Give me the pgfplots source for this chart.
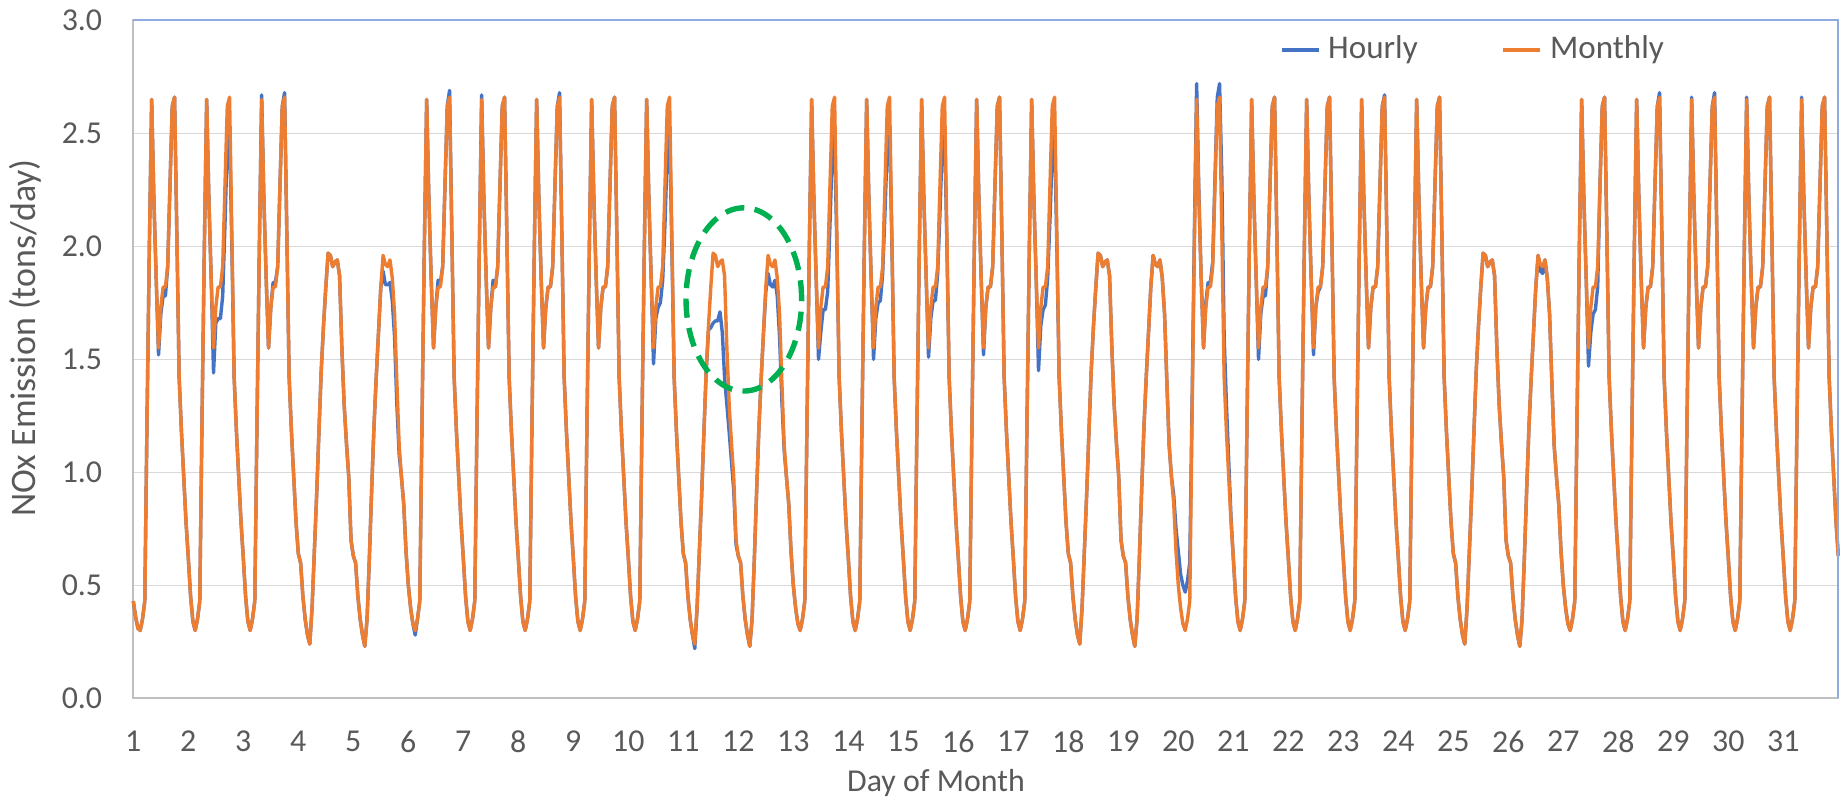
\documentclass[border=0pt]{standalone}
\usepackage{fontspec}
\setmainfont{Carlito}
\usepackage{pgfplots}
\usepackage{pgfplotstable}
\pgfplotsset{compat=1.18}

\definecolor{hourly}{HTML}{4472C4}
\definecolor{monthly}{HTML}{ED7D31}
\definecolor{ovalgreen}{HTML}{00B050}
\definecolor{gridgray}{HTML}{D9D9D9}
\definecolor{axisgray}{HTML}{BFBFBF}
\definecolor{frameblue}{HTML}{8FAADC}
\definecolor{txtgray}{HTML}{595959}

% hourly NOx, one row per hour from day 1 00:00; columns: h = Hourly, m = Monthly
\pgfplotstableread[row sep=\\]{
h m\\
0.43 0.43\\ 0.36 0.36\\ 0.31 0.31\\ 0.30 0.30\\ 0.35 0.35\\ 0.43 0.43\\ 1.25 1.25\\ 2.00 2.00\\ 2.65 2.65\\ 2.20 2.20\\ 1.85 1.85\\ 1.52 1.55\\
1.70 1.73\\ 1.78 1.82\\ 1.78 1.82\\ 1.91 1.91\\ 2.27 2.27\\ 2.62 2.62\\ 2.66 2.66\\ 2.05 2.05\\ 1.42 1.42\\ 1.18 1.18\\ 0.98 0.98\\ 0.78 0.78\\
0.62 0.62\\ 0.45 0.45\\ 0.34 0.34\\ 0.30 0.30\\ 0.35 0.35\\ 0.43 0.43\\ 1.25 1.25\\ 2.00 2.00\\ 2.65 2.65\\ 2.20 2.20\\ 1.85 1.85\\ 1.44 1.55\\
1.66 1.73\\ 1.68 1.82\\ 1.68 1.82\\ 1.78 1.91\\ 2.10 2.27\\ 2.45 2.62\\ 2.52 2.66\\ 2.00 2.05\\ 1.42 1.42\\ 1.18 1.18\\ 0.98 0.98\\ 0.78 0.78\\
0.62 0.62\\ 0.45 0.45\\ 0.34 0.34\\ 0.30 0.30\\ 0.35 0.35\\ 0.43 0.43\\ 1.25 1.25\\ 2.00 2.00\\ 2.67 2.65\\ 2.20 2.20\\ 1.85 1.85\\ 1.55 1.55\\
1.73 1.73\\ 1.84 1.82\\ 1.84 1.82\\ 1.91 1.91\\ 2.27 2.27\\ 2.62 2.62\\ 2.68 2.66\\ 2.05 2.05\\ 1.42 1.42\\ 1.18 1.18\\ 0.98 0.98\\ 0.78 0.78\\
0.64 0.64\\ 0.60 0.60\\ 0.45 0.45\\ 0.35 0.35\\ 0.28 0.28\\ 0.24 0.24\\ 0.40 0.40\\ 0.65 0.65\\ 0.90 0.90\\ 1.18 1.18\\ 1.45 1.45\\ 1.65 1.65\\
1.82 1.82\\ 1.97 1.97\\ 1.96 1.96\\ 1.91 1.91\\ 1.93 1.93\\ 1.94 1.94\\ 1.87 1.87\\ 1.55 1.55\\ 1.30 1.30\\ 1.13 1.13\\ 0.98 0.98\\ 0.70 0.70\\
0.63 0.63\\ 0.60 0.60\\ 0.45 0.45\\ 0.35 0.35\\ 0.28 0.28\\ 0.23 0.23\\ 0.35 0.35\\ 0.62 0.62\\ 0.92 0.92\\ 1.20 1.20\\ 1.42 1.42\\ 1.62 1.62\\
1.82 1.82\\ 1.89 1.96\\ 1.83 1.92\\ 1.83 1.91\\ 1.84 1.94\\ 1.76 1.86\\ 1.60 1.70\\ 1.30 1.40\\ 1.08 1.12\\ 0.98 0.98\\ 0.86 0.86\\ 0.65 0.65\\
0.50 0.50\\ 0.40 0.40\\ 0.33 0.33\\ 0.28 0.30\\ 0.35 0.35\\ 0.43 0.43\\ 1.25 1.25\\ 2.00 2.00\\ 2.65 2.65\\ 2.20 2.20\\ 1.85 1.85\\ 1.55 1.55\\
1.73 1.73\\ 1.85 1.82\\ 1.84 1.82\\ 1.91 1.91\\ 2.27 2.27\\ 2.62 2.62\\ 2.69 2.66\\ 2.05 2.05\\ 1.42 1.42\\ 1.18 1.18\\ 0.98 0.98\\ 0.78 0.78\\
0.62 0.62\\ 0.45 0.45\\ 0.34 0.34\\ 0.30 0.30\\ 0.35 0.35\\ 0.43 0.43\\ 1.25 1.25\\ 2.00 2.00\\ 2.67 2.65\\ 2.20 2.20\\ 1.85 1.85\\ 1.55 1.55\\
1.73 1.73\\ 1.85 1.82\\ 1.82 1.82\\ 1.91 1.91\\ 2.27 2.27\\ 2.62 2.62\\ 2.66 2.66\\ 2.05 2.05\\ 1.42 1.42\\ 1.18 1.18\\ 0.98 0.98\\ 0.78 0.78\\
0.62 0.62\\ 0.45 0.45\\ 0.34 0.34\\ 0.30 0.30\\ 0.35 0.35\\ 0.43 0.43\\ 1.25 1.25\\ 2.00 2.00\\ 2.65 2.65\\ 2.20 2.20\\ 1.85 1.85\\ 1.55 1.55\\
1.73 1.73\\ 1.82 1.82\\ 1.82 1.82\\ 1.91 1.91\\ 2.27 2.27\\ 2.62 2.62\\ 2.68 2.66\\ 2.05 2.05\\ 1.42 1.42\\ 1.18 1.18\\ 0.98 0.98\\ 0.78 0.78\\
0.62 0.62\\ 0.45 0.45\\ 0.34 0.34\\ 0.30 0.30\\ 0.35 0.35\\ 0.43 0.43\\ 1.25 1.25\\ 2.00 2.00\\ 2.65 2.65\\ 2.20 2.20\\ 1.85 1.85\\ 1.55 1.55\\
1.73 1.73\\ 1.82 1.82\\ 1.82 1.82\\ 1.91 1.91\\ 2.27 2.27\\ 2.62 2.62\\ 2.66 2.66\\ 2.05 2.05\\ 1.42 1.42\\ 1.18 1.18\\ 0.98 0.98\\ 0.78 0.78\\
0.62 0.62\\ 0.45 0.45\\ 0.34 0.34\\ 0.30 0.30\\ 0.35 0.35\\ 0.43 0.43\\ 1.25 1.25\\ 2.00 2.00\\ 2.65 2.65\\ 2.20 2.20\\ 1.85 1.85\\ 1.48 1.55\\
1.68 1.73\\ 1.73 1.82\\ 1.75 1.82\\ 1.85 1.91\\ 2.10 2.27\\ 2.42 2.62\\ 2.52 2.66\\ 2.00 2.05\\ 1.42 1.42\\ 1.18 1.18\\ 0.98 0.98\\ 0.78 0.78\\
0.64 0.64\\ 0.60 0.60\\ 0.45 0.45\\ 0.35 0.35\\ 0.28 0.28\\ 0.22 0.24\\ 0.40 0.40\\ 0.65 0.65\\ 0.90 0.90\\ 1.18 1.18\\ 1.45 1.45\\ 1.63 1.65\\
1.64 1.82\\ 1.66 1.97\\ 1.67 1.96\\ 1.67 1.91\\ 1.71 1.93\\ 1.62 1.94\\ 1.42 1.87\\ 1.30 1.55\\ 1.18 1.30\\ 1.05 1.13\\ 0.92 0.98\\ 0.68 0.70\\
0.63 0.63\\ 0.60 0.60\\ 0.45 0.45\\ 0.35 0.35\\ 0.28 0.28\\ 0.23 0.23\\ 0.35 0.35\\ 0.62 0.62\\ 0.92 0.92\\ 1.20 1.20\\ 1.42 1.42\\ 1.62 1.62\\
1.80 1.82\\ 1.88 1.96\\ 1.83 1.92\\ 1.82 1.91\\ 1.85 1.94\\ 1.78 1.86\\ 1.60 1.70\\ 1.32 1.40\\ 1.10 1.12\\ 0.98 0.98\\ 0.86 0.86\\ 0.65 0.65\\
0.50 0.50\\ 0.40 0.40\\ 0.33 0.33\\ 0.30 0.30\\ 0.35 0.35\\ 0.43 0.43\\ 1.25 1.25\\ 2.00 2.00\\ 2.65 2.65\\ 2.20 2.20\\ 1.85 1.85\\ 1.50 1.55\\
1.62 1.73\\ 1.72 1.82\\ 1.72 1.82\\ 1.80 1.91\\ 2.10 2.27\\ 2.42 2.62\\ 2.50 2.66\\ 2.00 2.05\\ 1.42 1.42\\ 1.18 1.18\\ 0.98 0.98\\ 0.78 0.78\\
0.62 0.62\\ 0.45 0.45\\ 0.34 0.34\\ 0.30 0.30\\ 0.35 0.35\\ 0.43 0.43\\ 1.25 1.25\\ 2.00 2.00\\ 2.65 2.65\\ 2.20 2.20\\ 1.85 1.85\\ 1.50 1.55\\
1.68 1.73\\ 1.75 1.82\\ 1.76 1.82\\ 1.88 1.91\\ 2.15 2.27\\ 2.45 2.62\\ 2.52 2.66\\ 2.02 2.05\\ 1.42 1.42\\ 1.18 1.18\\ 0.98 0.98\\ 0.78 0.78\\
0.62 0.62\\ 0.45 0.45\\ 0.34 0.34\\ 0.30 0.30\\ 0.35 0.35\\ 0.43 0.43\\ 1.25 1.25\\ 2.00 2.00\\ 2.65 2.65\\ 2.20 2.20\\ 1.85 1.85\\ 1.51 1.55\\
1.68 1.73\\ 1.76 1.82\\ 1.76 1.82\\ 1.88 1.91\\ 2.15 2.27\\ 2.45 2.62\\ 2.52 2.66\\ 2.02 2.05\\ 1.42 1.42\\ 1.18 1.18\\ 0.98 0.98\\ 0.78 0.78\\
0.62 0.62\\ 0.45 0.45\\ 0.34 0.34\\ 0.30 0.30\\ 0.35 0.35\\ 0.43 0.43\\ 1.25 1.25\\ 2.00 2.00\\ 2.65 2.65\\ 2.20 2.20\\ 1.85 1.85\\ 1.52 1.55\\
1.73 1.73\\ 1.82 1.82\\ 1.82 1.82\\ 1.91 1.91\\ 2.27 2.27\\ 2.62 2.62\\ 2.66 2.66\\ 2.05 2.05\\ 1.42 1.42\\ 1.18 1.18\\ 0.98 0.98\\ 0.78 0.78\\
0.62 0.62\\ 0.45 0.45\\ 0.34 0.34\\ 0.30 0.30\\ 0.35 0.35\\ 0.43 0.43\\ 1.25 1.25\\ 2.00 2.00\\ 2.65 2.65\\ 2.20 2.20\\ 1.85 1.85\\ 1.45 1.55\\
1.65 1.73\\ 1.72 1.82\\ 1.74 1.82\\ 1.86 1.91\\ 2.12 2.27\\ 2.42 2.62\\ 2.50 2.66\\ 2.00 2.05\\ 1.42 1.42\\ 1.18 1.18\\ 0.98 0.98\\ 0.78 0.78\\
0.64 0.64\\ 0.60 0.60\\ 0.45 0.45\\ 0.35 0.35\\ 0.28 0.28\\ 0.24 0.24\\ 0.40 0.40\\ 0.65 0.65\\ 0.90 0.90\\ 1.18 1.18\\ 1.45 1.45\\ 1.65 1.65\\
1.82 1.82\\ 1.97 1.97\\ 1.96 1.96\\ 1.91 1.91\\ 1.93 1.93\\ 1.94 1.94\\ 1.87 1.87\\ 1.55 1.55\\ 1.30 1.30\\ 1.13 1.13\\ 0.98 0.98\\ 0.70 0.70\\
0.63 0.63\\ 0.60 0.60\\ 0.45 0.45\\ 0.35 0.35\\ 0.28 0.28\\ 0.23 0.23\\ 0.35 0.35\\ 0.62 0.62\\ 0.92 0.92\\ 1.20 1.20\\ 1.42 1.42\\ 1.62 1.62\\
1.82 1.82\\ 1.96 1.96\\ 1.92 1.92\\ 1.91 1.91\\ 1.94 1.94\\ 1.86 1.86\\ 1.70 1.70\\ 1.40 1.40\\ 1.12 1.12\\ 0.98 0.98\\ 0.90 0.86\\ 0.75 0.65\\
0.65 0.50\\ 0.55 0.40\\ 0.50 0.33\\ 0.47 0.30\\ 0.52 0.35\\ 0.60 0.43\\ 1.30 1.25\\ 2.05 2.00\\ 2.72 2.65\\ 2.22 2.20\\ 1.85 1.85\\ 1.55 1.55\\
1.75 1.73\\ 1.84 1.82\\ 1.84 1.82\\ 1.93 1.91\\ 2.30 2.27\\ 2.66 2.62\\ 2.72 2.66\\ 2.30 2.05\\ 1.60 1.42\\ 1.30 1.18\\ 1.05 0.98\\ 0.80 0.78\\
0.62 0.62\\ 0.45 0.45\\ 0.34 0.34\\ 0.30 0.30\\ 0.35 0.35\\ 0.43 0.43\\ 1.25 1.25\\ 2.00 2.00\\ 2.65 2.65\\ 2.20 2.20\\ 1.85 1.85\\ 1.50 1.55\\
1.70 1.73\\ 1.78 1.82\\ 1.78 1.82\\ 1.91 1.91\\ 2.27 2.27\\ 2.62 2.62\\ 2.66 2.66\\ 2.05 2.05\\ 1.42 1.42\\ 1.18 1.18\\ 0.98 0.98\\ 0.78 0.78\\
0.62 0.62\\ 0.45 0.45\\ 0.34 0.34\\ 0.30 0.30\\ 0.35 0.35\\ 0.43 0.43\\ 1.25 1.25\\ 2.00 2.00\\ 2.65 2.65\\ 2.20 2.20\\ 1.85 1.85\\ 1.52 1.55\\
1.73 1.73\\ 1.80 1.82\\ 1.82 1.82\\ 1.91 1.91\\ 2.27 2.27\\ 2.62 2.62\\ 2.66 2.66\\ 2.05 2.05\\ 1.42 1.42\\ 1.18 1.18\\ 0.98 0.98\\ 0.78 0.78\\
0.62 0.62\\ 0.45 0.45\\ 0.34 0.34\\ 0.30 0.30\\ 0.35 0.35\\ 0.43 0.43\\ 1.25 1.25\\ 2.00 2.00\\ 2.65 2.65\\ 2.20 2.20\\ 1.85 1.85\\ 1.55 1.55\\
1.73 1.73\\ 1.82 1.82\\ 1.82 1.82\\ 1.91 1.91\\ 2.27 2.27\\ 2.62 2.62\\ 2.67 2.66\\ 2.05 2.05\\ 1.42 1.42\\ 1.18 1.18\\ 0.98 0.98\\ 0.78 0.78\\
0.62 0.62\\ 0.45 0.45\\ 0.34 0.34\\ 0.30 0.30\\ 0.35 0.35\\ 0.43 0.43\\ 1.25 1.25\\ 2.00 2.00\\ 2.65 2.65\\ 2.20 2.20\\ 1.85 1.85\\ 1.55 1.55\\
1.73 1.73\\ 1.82 1.82\\ 1.82 1.82\\ 1.91 1.91\\ 2.27 2.27\\ 2.62 2.62\\ 2.66 2.66\\ 2.05 2.05\\ 1.42 1.42\\ 1.18 1.18\\ 0.98 0.98\\ 0.78 0.78\\
0.64 0.64\\ 0.60 0.60\\ 0.45 0.45\\ 0.35 0.35\\ 0.28 0.28\\ 0.24 0.24\\ 0.40 0.40\\ 0.65 0.65\\ 0.90 0.90\\ 1.18 1.18\\ 1.45 1.45\\ 1.65 1.65\\
1.82 1.82\\ 1.97 1.97\\ 1.96 1.96\\ 1.91 1.91\\ 1.93 1.93\\ 1.94 1.94\\ 1.87 1.87\\ 1.55 1.55\\ 1.30 1.30\\ 1.13 1.13\\ 0.98 0.98\\ 0.70 0.70\\
0.63 0.63\\ 0.60 0.60\\ 0.45 0.45\\ 0.35 0.35\\ 0.28 0.28\\ 0.23 0.23\\ 0.35 0.35\\ 0.62 0.62\\ 0.92 0.92\\ 1.20 1.20\\ 1.42 1.42\\ 1.62 1.62\\
1.82 1.82\\ 1.96 1.96\\ 1.89 1.92\\ 1.88 1.91\\ 1.94 1.94\\ 1.86 1.86\\ 1.70 1.70\\ 1.40 1.40\\ 1.12 1.12\\ 0.98 0.98\\ 0.86 0.86\\ 0.65 0.65\\
0.50 0.50\\ 0.40 0.40\\ 0.33 0.33\\ 0.30 0.30\\ 0.35 0.35\\ 0.43 0.43\\ 1.25 1.25\\ 2.00 2.00\\ 2.65 2.65\\ 2.20 2.20\\ 1.85 1.85\\ 1.47 1.55\\
1.62 1.73\\ 1.70 1.82\\ 1.72 1.82\\ 1.82 1.91\\ 2.27 2.27\\ 2.62 2.62\\ 2.66 2.66\\ 2.05 2.05\\ 1.42 1.42\\ 1.18 1.18\\ 0.98 0.98\\ 0.78 0.78\\
0.62 0.62\\ 0.45 0.45\\ 0.34 0.34\\ 0.30 0.30\\ 0.35 0.35\\ 0.43 0.43\\ 1.25 1.25\\ 2.00 2.00\\ 2.65 2.65\\ 2.20 2.20\\ 1.85 1.85\\ 1.55 1.55\\
1.73 1.73\\ 1.82 1.82\\ 1.82 1.82\\ 1.91 1.91\\ 2.27 2.27\\ 2.62 2.62\\ 2.68 2.66\\ 2.05 2.05\\ 1.42 1.42\\ 1.18 1.18\\ 0.98 0.98\\ 0.78 0.78\\
0.62 0.62\\ 0.45 0.45\\ 0.34 0.34\\ 0.30 0.30\\ 0.35 0.35\\ 0.43 0.43\\ 1.25 1.25\\ 2.00 2.00\\ 2.66 2.65\\ 2.20 2.20\\ 1.85 1.85\\ 1.55 1.55\\
1.73 1.73\\ 1.82 1.82\\ 1.82 1.82\\ 1.91 1.91\\ 2.27 2.27\\ 2.62 2.62\\ 2.68 2.66\\ 2.05 2.05\\ 1.42 1.42\\ 1.18 1.18\\ 0.98 0.98\\ 0.78 0.78\\
0.62 0.62\\ 0.45 0.45\\ 0.34 0.34\\ 0.30 0.30\\ 0.35 0.35\\ 0.43 0.43\\ 1.25 1.25\\ 2.00 2.00\\ 2.66 2.65\\ 2.20 2.20\\ 1.85 1.85\\ 1.55 1.55\\
1.73 1.73\\ 1.82 1.82\\ 1.82 1.82\\ 1.91 1.91\\ 2.27 2.27\\ 2.62 2.62\\ 2.66 2.66\\ 2.05 2.05\\ 1.42 1.42\\ 1.18 1.18\\ 0.98 0.98\\ 0.78 0.78\\
0.62 0.62\\ 0.45 0.45\\ 0.34 0.34\\ 0.30 0.30\\ 0.35 0.35\\ 0.43 0.43\\ 1.25 1.25\\ 2.00 2.00\\ 2.66 2.65\\ 2.20 2.20\\ 1.85 1.85\\ 1.55 1.55\\
1.73 1.73\\ 1.82 1.82\\ 1.82 1.82\\ 1.91 1.91\\ 2.27 2.27\\ 2.62 2.62\\ 2.66 2.66\\ 2.05 2.05\\ 1.42 1.42\\ 1.18 1.18\\ 0.98 0.98\\ 0.78 0.78\\
0.63 0.63\\
}\nox

\begin{document}
\begin{tikzpicture}
\useasboundingbox (0,0) rectangle (461.75bp,202.25bp);
\begin{axis}[
  at={(33.33bp,27.67bp)}, anchor=south west,
  scale only axis, width=426.25bp, height=169.5bp,
  xmin=1, xmax=32, ymin=0, ymax=3,
  xtick={1,...,31}, ytick={0,0.5,1,1.5,2,2.5,3},
  major tick length=0pt,
  ymajorgrids, grid style={gridgray, line width=0.35bp},
  axis line style={axisgray, line width=0.45bp},
  clip=false,
  /pgf/number format/assume math mode=true,
  yticklabel style={/pgf/number format/fixed, /pgf/number format/fixed zerofill,
    /pgf/number format/precision=1, anchor=east, inner sep=0pt, xshift=-7.6bp},
  xticklabel style={anchor=north, inner sep=0pt, yshift=-7.9bp},
  tick label style={font=\fontsize{8}{9.6}\selectfont, text=txtgray},
  legend columns=2,
  legend style={at={(0.672,0.956)}, anchor=west, draw=none, fill=none,
    inner sep=0pt, font=\fontsize{8.3}{10}\selectfont, text=txtgray,
    /tikz/every even column/.append style={column sep=19bp}},
  legend image code/.code={\draw[#1] (0bp,0bp) -- (9.25bp,0bp);},
]
\addplot[hourly, line width=0.85bp, line join=round] table[x expr=1+\coordindex/24, y=h] {\nox};
\addlegendentry{Hourly}
\addplot[monthly, line width=0.85bp, line join=round] table[x expr=1+\coordindex/24, y=m] {\nox};
\addlegendentry{Monthly}
\draw[frameblue, line width=0.5bp] (rel axis cs:0,1) -- (rel axis cs:1,1) -- (rel axis cs:1,0);
\draw[ovalgreen, line width=1.35bp, dash pattern=on 4.8bp off 2.6bp]
  (axis cs:12.1,1.765) ellipse [x radius=14.45bp, y radius=22.9bp];
\end{axis}
\node[font=\fontsize{8}{10}\selectfont, text=txtgray] at (234bp,6.5bp) {Day of Month};
\node[font=\fontsize{9}{11}\selectfont, text=txtgray, rotate=90] at (6.2bp,117.75bp) {NOx Emission (tons/day)};
\end{tikzpicture}
\end{document}
